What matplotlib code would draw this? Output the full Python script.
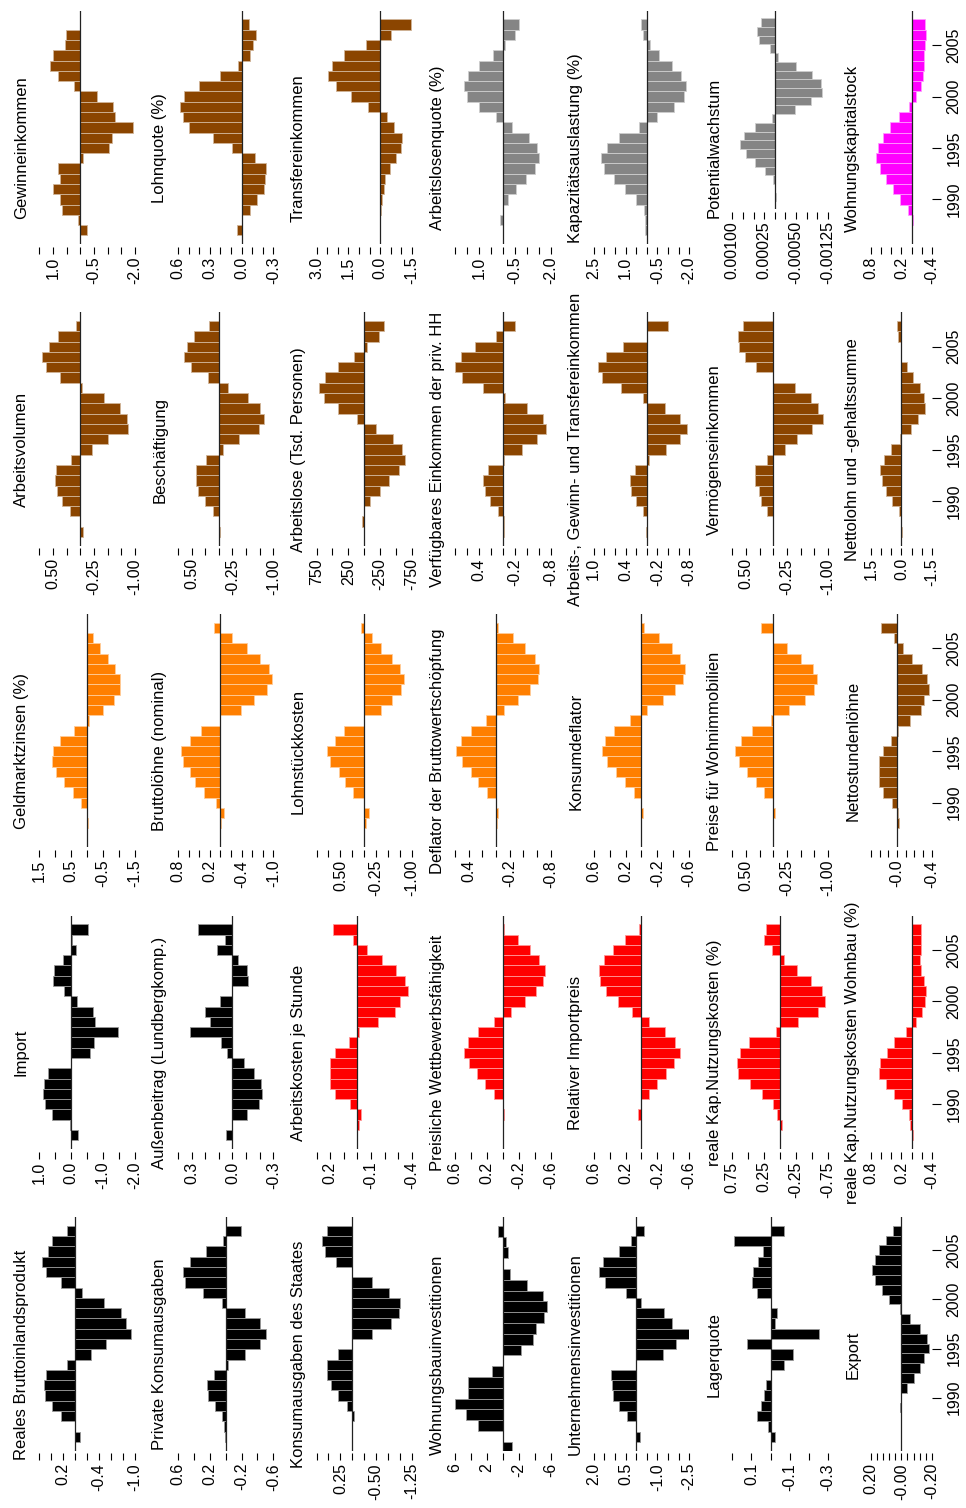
import numpy as np
import matplotlib.pyplot as plt
from matplotlib.colors import to_rgb

plt.rcParams['font.family'] = ['Liberation Sans', 'DejaVu Sans']

# bars run from the newest year (top of each panel) down to the oldest
years = list(range(2007, 1986, -1))            # 21 years
years_export = list(range(2007, 1985, -1))     # 22 years
year_ticks = [1990, 1995, 2000, 2005]

# ---- band 1 (top of page)
gewinn = [0, 0.51, 0.57, 0.98, 1.1, 0.83, 0.22, -0.61, -1.2, -1.26, -1.95, -1.16, -1.06, -0.1,
          0.83, 0.73, 1.0, 0.73, 0.65, 0.085, -0.24]
lohnquote = [-0.072, -0.134, -0.109, -0.078, 0.03, 0.203, 0.397, 0.54, 0.578, 0.556, 0.494, 0.266,
             0.094, -0.125, -0.234, -0.219, -0.213, -0.15, -0.078, 0, 0.04]
transfer = [-1.45, -0.5, 0.66, 1.69, 2.27, 2.47, 2.06, 1.36, 0.55, -0.31, -0.66, -1.02, -0.98,
            -0.73, -0.47, -0.23, -0.16, -0.08, -0.05, 0, 0]
alq = [-0.67, -0.52, -0.07, 0.4, 1.0, 1.46, 1.64, 1.49, 1.0, 0.3, -0.4, -1.09, -1.42, -1.52, -1.34,
       -0.97, -0.57, -0.22, 0, 0.12, 0]
kapazitaet = [0.28, 0.17, -0.17, -0.6, -1.17, -1.63, -1.85, -1.75, -1.27, -0.47, 0.37, 1.32, 1.87,
              2.15, 2.02, 1.52, 1.02, 0.52, 0.15, 0.07, 0.07]
potential = [0.00033, 0.00042, 0.00036, 0.00011, -0.00008, -0.0005, -0.00088, -0.00108, -0.00111,
             -0.00085, -0.00048, 0.00006, 0.00046, 0.00073, 0.00081, 0.00067, 0.00046, 0.00023,
             0.00004, 0, -0.00002]
wohnkapital = [-0.266, -0.287, -0.266, -0.239, -0.239, -0.218, -0.184, -0.082, 0.055, 0.239, 0.416,
               0.567, 0.669, 0.703, 0.621, 0.512, 0.375, 0.225, 0.075, -0.02, 0]

# ---- band 2
arbeitsvolumen = [0.08, 0.41, 0.567, 0.7, 0.634, 0.366, -0.03, -0.427, -0.72, -0.854, -0.884, -0.5,
                  -0.213, 0.165, 0.44, 0.457, 0.427, 0.335, 0.183, 0, -0.05]
beschaeftigung = [0.183, 0.457, 0.59, 0.64, 0.506, 0.2, -0.17, -0.53, -0.75, -0.823, -0.738, -0.378,
                  -0.08, 0.232, 0.427, 0.42, 0.378, 0.262, 0.11, -0.012, -0.03]
arbeitslose = [-307, -229, -36, 161, 417, 615, 703, 630, 417, 120, -182, -453, -599, -635, -547,
               -391, -245, -89, 0, 31, 0]
verfuegbar = [-0.197, 0.107, 0.46, 0.704, 0.794, 0.687, 0.34, -0.03, -0.406, -0.669, -0.728, -0.579,
              -0.316, -0.012, 0.251, 0.328, 0.299, 0.209, 0.078, -0.018, -0.012]
agt_einkommen = [-0.4, 0, 0.447, 0.767, 0.913, 0.847, 0.493, 0.08, -0.353, -0.633, -0.753, -0.633,
                 -0.36, -0.033, 0.227, 0.313, 0.3, 0.2, 0.067, 0, 0.013]
vermoegen = [0.558, 0.654, 0.622, 0.513, 0.32, 0, -0.404, -0.692, -0.82, -0.917, -0.705, -0.436,
             -0.224, 0.109, 0.333, 0.333, 0.269, 0.224, 0.122, 0, 0.013]
nettolohn = [0.22, 0.17, 0, 0, -0.256, -0.58, -0.92, -1.09, -1.14, -0.836, -0.478, 0.05, 0.53, 0.87,
             1.04, 0.956, 0.768, 0.444, 0.1, 0, -0.03]

# ---- band 3
geldmarkt = [0, -0.18, -0.42, -0.65, -0.87, -1.02, -1.02, -0.84, -0.51, -0.05, 0.42, 0.84, 1.07,
             1.1, 0.98, 0.72, 0.44, 0.18, 0, -0.04, 0]
bruttoloehne = [0.125, -0.22, -0.5, -0.75, -0.925, -0.97, -0.875, -0.64, -0.39, 0, 0.356, 0.58,
                0.75, 0.7, 0.58, 0.47, 0.3, 0.075, -0.06, -0.02, 0]
lohnstueck = [0.075, -0.17, -0.356, -0.575, -0.75, -0.836, -0.767, -0.575, -0.342, 0, 0.418, 0.603,
              0.788, 0.726, 0.534, 0.397, 0.226, 0, -0.096, -0.027, 0]
deflator_bws = [-0.036, -0.25, -0.43, -0.564, -0.636, -0.61, -0.497, -0.323, -0.113, 0.144, 0.374,
                0.513, 0.59, 0.503, 0.374, 0.262, 0.133, 0, -0.026, -0.01, 0]
konsumdeflator = [-0.036, -0.222, -0.378, -0.489, -0.547, -0.52, -0.427, -0.271, -0.071, 0.142,
                  0.351, 0.453, 0.498, 0.427, 0.32, 0.209, 0.093, 0, -0.022, 0, 0]
wohnimmo = [0.218, 0, -0.256, -0.513, -0.724, -0.808, -0.756, -0.583, -0.295, 0.045, 0.385, 0.59,
            0.705, 0.622, 0.474, 0.32, 0.16, 0, -0.032, 0, 0]
nettostunden = [0.184, 0.04, -0.064, -0.176, -0.288, -0.348, -0.368, -0.308, -0.276, -0.148, -0.016,
                0.064, 0.164, 0.204, 0.204, 0.204, 0.164, 0.056, -0.016, -0.024, 0]

# ---- band 4
import_ = [-0.53, -0.03, -0.16, 0.26, 0.53, 0.58, 0.21, -0.19, -0.68, -0.74, -1.48, -0.72, -0.59, 0,
           0.74, 0.84, 0.88, 0.81, 0.6, 0.05, -0.22]
aussenbeitrag = [0.256, 0.054, 0.115, -0.039, -0.105, -0.112, 0, 0.095, 0.2, 0.168, 0.31, 0.083,
                 0.041, -0.085, -0.159, -0.207, -0.215, -0.195, -0.11, 0, 0.049]
arbeitskosten = [0.178, 0.029, -0.067, -0.18, -0.284, -0.352, -0.369, -0.313, -0.277, -0.152,
                 -0.012, 0.06, 0.161, 0.198, 0.198, 0.198, 0.161, 0.053, -0.027, -0.014, 0]
wettbewerb = [-0.02, -0.196, -0.34, -0.46, -0.53, -0.51, -0.42, -0.28, -0.1, 0.116, 0.31, 0.436,
              0.49, 0.427, 0.324, 0.22, 0.116, 0, -0.01, 0, 0]
importpreis = [0.03, 0.21, 0.356, 0.476, 0.533, 0.52, 0.44, 0.3, 0.12, -0.1, -0.3, -0.42, -0.48,
               -0.41, -0.31, -0.2, -0.1, 0, 0.044, 0, 0]
kapkosten = [0.22, 0.25, 0.128, -0.056, -0.267, -0.49, -0.656, -0.706, -0.594, -0.289, 0.067, 0.49,
             0.622, 0.678, 0.656, 0.472, 0.278, 0.111, 0.044, -0.028, 0]
kapkosten_wohn = [-0.184, -0.184, -0.184, -0.164, -0.184, -0.239, -0.287, -0.266, -0.198, -0.082,
                  0.102, 0.348, 0.485, 0.62, 0.635, 0.498, 0.348, 0.191, 0.055, 0.034, -0.02]

# ---- band 5 (bottom of page)
bip = [0.14, 0.38, 0.45, 0.55, 0.49, 0.24, -0.11, -0.49, -0.77, -0.85, -0.94, -0.52, -0.26, 0.14,
       0.49, 0.52, 0.51, 0.39, 0.24, 0, -0.08]
privkonsum = [-0.19, 0.03, 0.25, 0.45, 0.54, 0.51, 0.29, 0.04, -0.24, -0.43, -0.51, -0.43, -0.24,
              -0.03, 0.15, 0.23, 0.22, 0.14, 0.04, 0.02, 0.01]
staatskonsum = [0.54, 0.63, 0.58, 0.35, 0, -0.41, -0.76, -1.0, -0.97, -0.82, -0.41, 0, 0.29, 0.52,
                0.54, 0.44, 0.29, 0.12, -0.03, 0, 0]
wohnbau = [0.67, -0.35, -0.67, 0, -0.9, -3.0, -5.1, -5.5, -5.2, -4.2, -3.8, -2.3, 0, 1.33, 4.36,
           4.36, 6.04, 4.67, 3.1, 0, -1.2]
unternehmen = [-0.38, 0.23, 0.83, 1.58, 1.75, 1.48, 0.5, -0.22, -1.3, -1.68, -2.47, -1.88, -1.25, 0,
               1.17, 1.15, 1.08, 0.82, 0.45, 0, -0.17]
lagerquote = [-0.073, 0.19, 0.04, 0.068, 0.092, 0.095, 0.073, 0, -0.033, -0.024, -0.253, 0.125,
              -0.12, -0.073, 0, 0.022, 0.033, 0.051, 0.073, 0.015, -0.022]
export = [0.052, 0.1, 0.15, 0.17, 0.19, 0.17, 0.13, 0.08, 0.01, -0.055, -0.125, -0.17, -0.18,
          -0.145, -0.12, -0.084, -0.034, 0, 0.01, 0, 0, 0]

BLACK, RED, ORANGE = '#000000', '#ff0000', '#ff7f00'
BROWN, GREY, MAGENTA = '#8b4500', '#858585', '#ff00ff'

# (band, column, title, values, years, colour, (tick_hi, tick_lo, step), labels)
panels = [
    (0, 0, 'Gewinneinkommen', gewinn, years, BROWN, (1.5, -2.0, 0.5), ['1.0', '-0.5', '-2.0']),
    (0, 1, 'Lohnquote (%)', lohnquote, years, BROWN, (0.6, -0.3, 0.1), ['0.6', '0.3', '0.0', '-0.3']),
    (0, 2, 'Transfereinkommen', transfer, years, BROWN, (3.0, -1.5, 0.5), ['3.0', '1.5', '0.0', '-1.5']),
    (0, 3, 'Arbeitslosenquote (%)', alq, years, GREY, (2.0, -2.0, 0.5), ['1.0', '-0.5', '-2.0']),
    (0, 4, 'Kapazitätsauslastung (%)', kapazitaet, years, GREY, (2.5, -2.0, 0.5),
     ['2.5', '1.0', '-0.5', '-2.0']),
    (0, 5, 'Potentialwachstum', potential, years, GREY, (0.001, -0.00125, 0.00025),
     ['0.00100', '0.00025', '-0.00050', '-0.00125']),
    (0, 6, 'Wohnungskapitalstock', wohnkapital, years, MAGENTA, (0.8, -0.4, 0.2), ['0.8', '0.2', '-0.4']),

    (1, 0, 'Arbeitsvolumen', arbeitsvolumen, years, BROWN, (0.75, -1.0, 0.25), ['0.50', '-0.25', '-1.00']),
    (1, 1, 'Beschäftigung', beschaeftigung, years, BROWN, (0.75, -1.0, 0.25), ['0.50', '-0.25', '-1.00']),
    (1, 2, 'Arbeitslose (Tsd. Personen)', arbeitslose, years, BROWN, (750, -750, 250),
     ['750', '250', '-250', '-750']),
    (1, 3, 'Verfügbares Einkommen der priv. HH', verfuegbar, years, BROWN, (0.8, -0.8, 0.2),
     ['0.4', '-0.2', '-0.8']),
    (1, 4, 'Arbeits-, Gewinn- und Transfereinkommen', agt_einkommen, years, BROWN, (1.0, -0.8, 0.2),
     ['1.0', '0.4', '-0.2', '-0.8']),
    (1, 5, 'Vermögenseinkommen', vermoegen, years, BROWN, (0.75, -1.0, 0.25), ['0.50', '-0.25', '-1.00']),
    (1, 6, 'Nettolohn und -gehaltssumme', nettolohn, years, BROWN, (1.5, -1.5, 0.5), ['1.5', '0.0', '-1.5']),

    (2, 0, 'Geldmarktzinsen (%)', geldmarkt, years, ORANGE, (1.5, -1.5, 0.5), ['1.5', '0.5', '-0.5', '-1.5']),
    (2, 1, 'Bruttolöhne (nominal)', bruttoloehne, years, ORANGE, (0.8, -1.0, 0.2),
     ['0.8', '0.2', '-0.4', '-1.0']),
    (2, 2, 'Lohnstückkosten', lohnstueck, years, ORANGE, (1.0, -1.0, 0.25), ['0.50', '-0.25', '-1.00']),
    (2, 3, 'Deflator der Bruttowertschöpfung', deflator_bws, years, ORANGE, (0.6, -0.8, 0.2),
     ['0.4', '-0.2', '-0.8']),
    (2, 4, 'Konsumdeflator', konsumdeflator, years, ORANGE, (0.6, -0.6, 0.2), ['0.6', '0.2', '-0.2', '-0.6']),
    (2, 5, 'Preise für Wohnimmobilien', wohnimmo, years, ORANGE, (0.75, -1.0, 0.25),
     ['0.50', '-0.25', '-1.00']),
    (2, 6, 'Nettostundenlöhne', nettostunden, years, BROWN, (0.3, -0.4, 0.1), ['-0.0', '-0.4']),

    (3, 0, 'Import', import_, years, BLACK, (1.0, -2.0, 0.5), ['1.0', '0.0', '-1.0', '-2.0']),
    (3, 1, 'Außenbeitrag (Lundbergkomp.)', aussenbeitrag, years, BLACK, (0.4, -0.3, 0.1),
     ['0.3', '0.0', '-0.3']),
    (3, 2, 'Arbeitskosten je Stunde', arbeitskosten, years, RED, (0.3, -0.4, 0.1), ['0.2', '-0.1', '-0.4']),
    (3, 3, 'Preisliche Wettbewerbsfähigkeit', wettbewerb, years, RED, (0.6, -0.6, 0.2),
     ['0.6', '0.2', '-0.2', '-0.6']),
    (3, 4, 'Relativer Importpreis', importpreis, years, RED, (0.6, -0.6, 0.2), ['0.6', '0.2', '-0.2', '-0.6']),
    (3, 5, 'reale Kap.Nutzungskosten (%)', kapkosten, years, RED, (0.75, -0.75, 0.25),
     ['0.75', '0.25', '-0.25', '-0.75']),
    (3, 6, 'reale Kap.Nutzungskosten Wohnbau (%)', kapkosten_wohn, years, RED, (0.8, -0.4, 0.2),
     ['0.8', '0.2', '-0.4']),

    (4, 0, 'Reales Bruttoinlandsprodukt', bip, years, BLACK, (0.6, -1.0, 0.2), ['0.2', '-0.4', '-1.0']),
    (4, 1, 'Private Konsumausgaben', privkonsum, years, BLACK, (0.6, -0.6, 0.2), ['0.6', '0.2', '-0.2', '-0.6']),
    (4, 2, 'Konsumausgaben des Staates', staatskonsum, years, BLACK, (0.75, -1.25, 0.25),
     ['0.25', '-0.50', '-1.25']),
    (4, 3, 'Wohnungsbauinvestitionen', wohnbau, years, BLACK, (6, -6, 2), ['6', '2', '-2', '-6']),
    (4, 4, 'Unternehmensinvestitionen', unternehmen, years, BLACK, (2.0, -2.5, 0.5),
     ['2.0', '0.5', '-1.0', '-2.5']),
    (4, 5, 'Lagerquote', lagerquote, years, BLACK, (0.2, -0.3, 0.1), ['0.1', '-0.1', '-0.3']),
    (4, 6, 'Export', export, years_export, BLACK, (0.2, -0.2, 0.04), ['0.20', '-0.00', '-0.20']),
]

# page layout in pixels
W, H = 966, 1508
COL_X0, COL_DX, PLOT_W, PLOT_W_LAST = 39.3, 138.6, 95.5, 61.0
BAND_Y0, BAND_DY, PLOT_H = 10.8, 301.6, 233.3
TITLE_Y0 = 148.0
# the panel with the long tick labels has a shorter plot area
SHORT_PLOT_H = {'Potentialwachstum': 198.0}

fig = plt.figure(figsize=(W / 100, H / 100), dpi=100)


def lighter(c, f=0.6):
    r, g, b = to_rgb(c)
    return (r + (1 - r) * f, g + (1 - g) * f, b + (1 - b) * f)


for band, col, title, vals, yrs, colour, (t_hi, t_lo, t_step), labels in panels:
    left = COL_X0 + COL_DX * col
    width = PLOT_W_LAST if col == 6 else PLOT_W
    top = BAND_Y0 + BAND_DY * band
    height = SHORT_PLOT_H.get(title, PLOT_H)
    ax = fig.add_axes([left / W, 1 - (top + height) / H, width / W, height / H])
    ax.patch.set_visible(False)

    # frame off; the value ticks sit a little below the plot area
    for side in ['top', 'left', 'right', 'bottom']:
        ax.spines[side].set_visible(False)
    ax.spines['bottom'].set_position(('outward', 2))

    ax.barh(yrs, vals, height=1.0, color=colour, edgecolor=lighter(colour), linewidth=0.6)
    ax.axvline(0, color='#222222', lw=0.9)

    n_ticks = int(round((t_hi - t_lo) / t_step)) + 1
    ticks = np.linspace(t_hi, t_lo, n_ticks)
    tick_labels = []
    for t in ticks:
        lab = ''
        for s in labels:
            if np.isclose(t, float(s), atol=t_step * 1e-3):
                lab = s
        tick_labels.append(lab)
    ax.set_xlim(t_hi, t_lo)
    ax.set_xticks(ticks)
    ax.set_xticklabels(tick_labels)
    ax.tick_params(axis='x', direction='out', length=5, width=0.8, pad=2,
                   labelrotation=90, labelsize=11.5)

    n = len(vals)
    if title == 'Wohnungsbauinvestitionen':
        ax.set_ylim(1986.7, 2008.3)
    else:
        ax.set_ylim(min(yrs) - 0.5 - 0.04 * n, max(yrs) + 0.5 + 0.04 * n)

    if col == 6:
        ax.yaxis.tick_right()
        ax.set_yticks(year_ticks)
        ax.set_yticklabels([str(y) for y in year_ticks], va='center')
        ax.tick_params(axis='y', direction='out', length=6.5, width=0.8, pad=4,
                       labelrotation=90, labelsize=11.5)
    else:
        ax.set_yticks([])

    fig.text((left - 18) / W, 1 - (TITLE_Y0 + BAND_DY * band) / H, title,
             rotation=90, ha='center', va='center', fontsize=12)

fig.savefig('out.png', dpi=100)
